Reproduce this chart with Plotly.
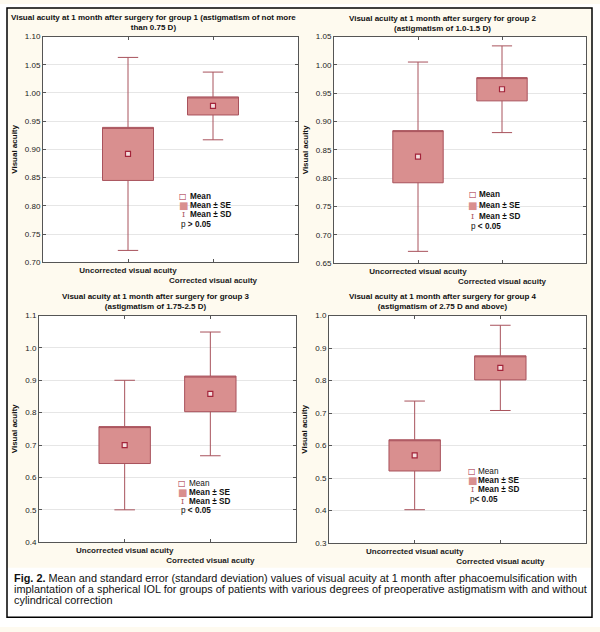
import plotly.graph_objects as go

# ---------------- data ----------------
categories = ["Uncorrected visual acuity", "Corrected visual acuity"]

titles = [
    "Visual acuity at 1 month after surgery for group 1 (astigmatism of not more<br>than 0.75 D)",
    "Visual acuity at 1 month after surgery for group 2<br>(astigmatism of 1.0-1.5 D)",
    "Visual acuity at 1 month after surgery for group 3<br>(astigmatism of 1.75-2.5 D)",
    "Visual acuity at 1 month after surgery for group 4<br>(astigmatism of 2.75 D and above)",
]

g1_mean = [0.892, 0.977]
g1_se = [0.047, 0.016]
g1_sd = [0.171, 0.060]

g2_mean = [0.838, 0.957]
g2_se = [0.046, 0.0205]
g2_sd = [0.167, 0.0765]

g3_mean = [0.700, 0.858]
g3_se = [0.057, 0.055]
g3_sd = [0.200, 0.191]

g4_mean = [0.570, 0.839]
g4_se = [0.048, 0.037]
g4_sd = [0.167, 0.131]

p_labels = ["p > 0.05", "p < 0.05", "p < 0.05", "p< 0.05"]
legend_labels = ["Mean", "Mean ± SE", "Mean ± SD"]
y_title = "Visual acuity"
caption_lines = [
    "<b>Fig. 2.</b> Mean and standard error (standard deviation) values of visual acuity at 1 month after phacoemulsification with",
    "implantation of a spherical IOL for groups of patients with various degrees of preoperative astigmatism with and without",
    "cylindrical correction",
]

groups = [
    (g1_mean, g1_se, g1_sd),
    (g2_mean, g2_se, g2_sd),
    (g3_mean, g3_se, g3_sd),
    (g4_mean, g4_se, g4_sd),
]

# ---------------- layout settings ----------------
W, H = 600, 632
def px(x): return x / W
def py(y): return 1 - y / H

FONT = "Liberation Sans, Arial, sans-serif"
CREAM = "#fefaef"
BOX_FILL = "#d98f8f"
BOX_LINE = "#a8525c"
MEAN_COL = "#a3243a"

# plot areas in pixels: (x0, x1, ytop, ybottom)
areas = [(43, 298, 33, 262), (334, 586, 33, 263), (39, 296, 316, 546), (329, 586, 316, 547)]
y_ranges = [(0.70, 1.10), (0.65, 1.05), (0.40, 1.10), (0.30, 1.00)]
y_dticks = [0.05, 0.05, 0.1, 0.1]
y_formats = [".2f", ".2f", ".1f", ".1f"]
title_pos = [(153.5, 19), (443, 19.5), (156, 301.5), (443, 301.5)]
legend_pos = [  # symbol x, text x, row y's
    (183, 189, [195.7, 204.8, 214, 224]),
    (472.5, 478, [193, 204, 215.5, 225.5]),
    (182.5, 187.5, [486.7, 495.7, 504.8, 514]),
    (472, 477, [474.3, 483.3, 492.7, 502.3]),
]
mean_bold = [True, True, False, False]

fig = go.Figure()
annotations = []

for i, (mean, se, sd) in enumerate(groups):
    n = "" if i == 0 else str(i + 1)
    xa, ya = "x" + n, "y" + n
    q1 = [m - s for m, s in zip(mean, se)]
    q3 = [m + s for m, s in zip(mean, se)]
    lo = [m - d for m, d in zip(mean, sd)]
    hi = [m + d for m, d in zip(mean, sd)]
    fig.add_trace(go.Box(
        x=[1, 2], q1=q1, median=q3, q3=q3, lowerfence=lo, upperfence=hi,
        width=0.6, whiskerwidth=0.4, fillcolor=BOX_FILL,
        line=dict(color=BOX_LINE, width=1), boxpoints=False,
        showlegend=False, hoverinfo="skip", xaxis=xa, yaxis=ya,
    ))
    fig.add_trace(go.Scatter(
        x=[1, 2], y=mean, mode="markers",
        marker=dict(symbol="square", size=5, color="#f4dede",
                    line=dict(color=MEAN_COL, width=1.2)),
        showlegend=False, hoverinfo="skip", xaxis=xa, yaxis=ya,
    ))

    x0, x1, yt, yb = areas[i]
    axis_common = dict(
        showline=True, mirror="ticks", linecolor="#555555", linewidth=1,
        ticks="inside", ticklen=3, tickcolor="#555555", zeroline=False,
    )
    fig.layout["xaxis" + n] = dict(
        domain=[px(x0), px(x1)], range=[0, 3], anchor=ya,
        tickvals=[1, 2], ticktext=[categories[0], "<br>" + categories[1]],
        tickangle=0,
        tickfont=dict(family=FONT, size=8, color="#222222", weight="bold"),
        showgrid=False, **axis_common,
    )
    lo_r, hi_r = y_ranges[i]
    fig.layout["yaxis" + n] = dict(
        domain=[py(yb), py(yt)], range=[lo_r, hi_r], anchor=xa,
        dtick=y_dticks[i], tick0=0, tickformat=y_formats[i],
        tickfont=dict(family=FONT, size=8, color="#222222"),
        showgrid=True, gridcolor="#e6e6e6", gridwidth=1,
        title=dict(text=y_title, standoff=6,
                   font=dict(family=FONT, size=8, color="#111111", weight="bold")),
        **axis_common,
    )

    # panel title
    tx, ty = title_pos[i]
    annotations.append(dict(
        text="<b>" + titles[i] + "</b>", x=px(tx), y=py(ty), xref="paper", yref="paper",
        xanchor="center", yanchor="middle", showarrow=False,
        font=dict(family=FONT, size=8, color="#111111"),
    ))

    # legend (drawn as text)
    sx, txx, rows = legend_pos[i]
    symbols = [
        ("□", "DejaVu Sans", 8, MEAN_COL),
        ("■", "DejaVu Sans", 10, BOX_FILL),
        ("I", "DejaVu Serif", 8, BOX_LINE),
    ]
    for k, (sym, fam, sz, col) in enumerate(symbols):
        annotations.append(dict(
            text=sym, x=px(sx), y=py(rows[k]), xref="paper", yref="paper",
            xanchor="center", yanchor="middle", showarrow=False, borderpad=0,
            font=dict(family=fam, size=sz, color=col),
        ))
        label = legend_labels[k]
        if k > 0 or mean_bold[i]:
            label = "<b>" + label + "</b>"
        annotations.append(dict(
            text=label, x=px(txx), y=py(rows[k]), xref="paper", yref="paper",
            xanchor="left", yanchor="middle", showarrow=False, borderpad=0,
            font=dict(family=FONT, size=8.2, color="#111111"),
        ))
    ptxt = p_labels[i]
    ptxt = ptxt[0] + "<b>" + ptxt[1:] + "</b>"
    annotations.append(dict(
        text=ptxt, x=px(sx - 3), y=py(rows[3]), xref="paper", yref="paper",
        xanchor="left", yanchor="middle", showarrow=False, borderpad=0,
        font=dict(family=FONT, size=8.2, color="#111111"),
    ))

# caption
for j, (line, yy) in enumerate(zip(caption_lines, [582.5, 593.5, 604.5])):
    annotations.append(dict(
        text=line, x=px(13), y=py(yy), xref="paper", yref="paper",
        xanchor="left", yanchor="middle", showarrow=False, borderpad=0,
        font=dict(family=FONT, size=10.9, color="#111111"),
    ))

shapes = [
    dict(type="rect", xref="paper", yref="paper", x0=0, x1=1, y0=0, y1=py(572),
         fillcolor="white", line=dict(width=0), layer="below"),
    dict(type="rect", xref="paper", yref="paper", x0=0, x1=px(7), y0=0, y1=1,
         fillcolor="white", line=dict(width=0), layer="below"),
    dict(type="rect", xref="paper", yref="paper", x0=px(592), x1=1, y0=0, y1=1,
         fillcolor="white", line=dict(width=0), layer="below"),
    dict(type="rect", xref="paper", yref="paper", x0=0, x1=1, y0=py(4), y1=1,
         fillcolor="white", line=dict(width=0), layer="below"),
    dict(type="rect", xref="paper", yref="paper", x0=px(7), x1=px(592), y0=py(622), y1=py(4),
         line=dict(color="black", width=1.5), layer="above"),
]

fig.update_layout(
    width=W, height=H, margin=dict(l=0, r=0, t=0, b=0),
    paper_bgcolor=CREAM, plot_bgcolor="white",
    annotations=annotations, shapes=shapes, showlegend=False,
    font=dict(family=FONT),
)

fig.write_html(
    "out.html",
    config={"displayModeBar": False, "staticPlot": True},
    post_script="document.body.style.margin='0';document.body.style.overflow='hidden';",
)
